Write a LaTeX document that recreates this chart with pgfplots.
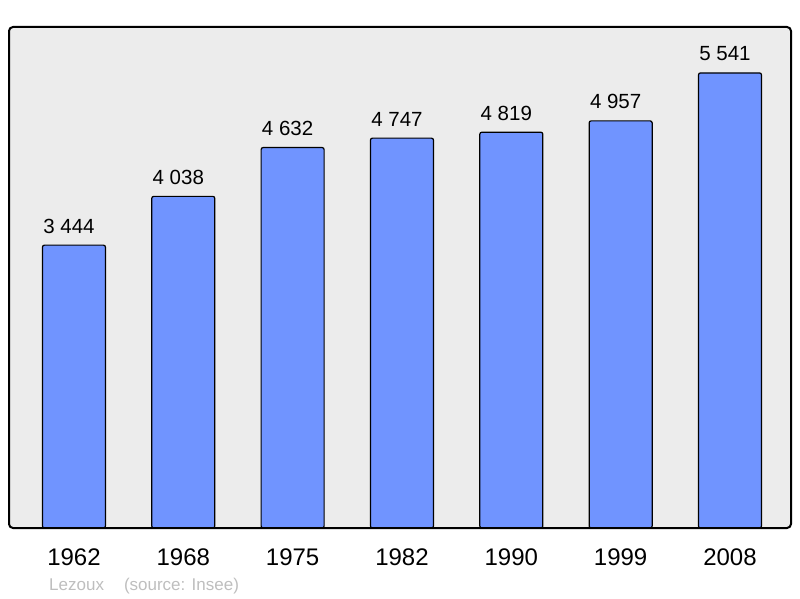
\documentclass[border=0pt]{standalone}
\usepackage{pgfplots}
\pgfplotsset{compat=1.18}
\usepackage{fontspec}
\setmainfont{Liberation Sans}
\definecolor{barblue}{RGB}{112,148,255}
\definecolor{bg}{RGB}{236,236,236}
\definecolor{srcgray}{RGB}{190,190,190}
\begin{document}
\begin{tikzpicture}[x=1pt,y=1pt]
\path[use as bounding box] (0,0) rectangle (800,598);
\begin{axis}[
 at={(9pt,70pt)}, anchor=south west,
 scale only axis, width=782pt, height=501pt,
 xmin=-0.594, xmax=6.558, ymin=0, ymax=6100,
 axis line style={draw=none},
 axis background/.style={fill=bg, rounded corners=4pt},
 ytick=\empty,
 xtick={0,...,6},
 xticklabels={1962,1968,1975,1982,1990,1999,2008},
 major tick length=0pt,
 xticklabel style={font=\fontsize{24}{24}\selectfont, anchor=base, yshift=-37pt},
 ybar, bar width=63pt,
 nodes near coords={\pgfmathprintnumber[assume math mode=true, 1000 sep={\ }]{\pgfplotspointmeta}},
 every node near coord/.append style={font=\fontsize{20.5}{20.5}\selectfont, anchor=base, yshift=12pt, xshift=-5pt, inner sep=0pt},
 clip=false,
]
\addplot[fill=barblue, draw=black, line width=1.2pt, rounded corners=2pt] coordinates {(0,3444) (1,4038) (2,4632) (3,4747) (4,4819) (5,4957) (6,5541)};
\end{axis}
\draw[line width=2pt, rounded corners=4pt] (9,70) rectangle (791,571);
\node[anchor=base west, inner sep=0pt, text=srcgray, font=\fontsize{17}{17}\selectfont] at (49,8) {Lezoux\hspace{20pt}(source: Insee)};
\end{tikzpicture}
\end{document}
